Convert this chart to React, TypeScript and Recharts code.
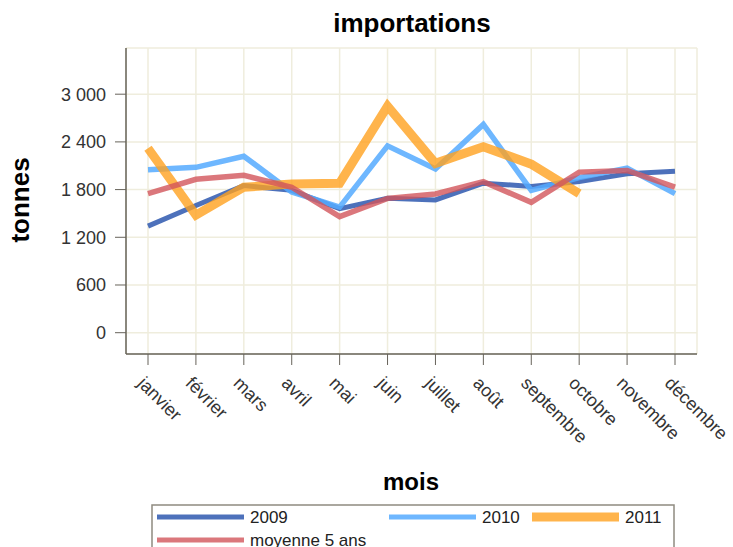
import React from 'react';
import { LineChart, Line, XAxis, YAxis, CartesianGrid } from 'recharts';

const months = ['janvier', 'février', 'mars', 'avril', 'mai', 'juin', 'juillet', 'août', 'septembre', 'octobre', 'novembre', 'décembre'];
const values2009 = [1340, 1600, 1850, 1790, 1560, 1690, 1670, 1880, 1840, 1900, 2000, 2030];
const values2010 = [2050, 2080, 2220, 1770, 1580, 2350, 2060, 2620, 1790, 1950, 2070, 1750];
const values2011 = [2320, 1480, 1830, 1870, 1880, 2850, 2130, 2340, 2120, 1750, null, null];
const valuesMoyenne = [1750, 1930, 1980, 1830, 1460, 1690, 1745, 1900, 1640, 2020, 2040, 1830];
const yTicks = [0, 600, 1200, 1800, 2400, 3000];

const FONT = '"Liberation Sans", Arial, sans-serif';

const series = [
  { key: 'a2009', name: '2009', color: '#3A62B4', width: 5, opacity: 0.9 },
  { key: 'a2010', name: '2010', color: '#55AAFF', width: 5.5, opacity: 0.85 },
  { key: 'a2011', name: '2011', color: '#FFA11F', width: 9, opacity: 0.8 },
  { key: 'moy', name: 'moyenne 5 ans', color: '#D2555B', width: 5.5, opacity: 0.8 },
];

const data = months.map((m, i) => ({
  mois: m,
  a2009: values2009[i],
  a2010: values2010[i],
  a2011: values2011[i],
  moy: valuesMoyenne[i],
}));

// "3 000" style, space as thousands separator
const formatTonnes = (v: number) =>
  v >= 1000 ? `${Math.floor(v / 1000)} ${String(v % 1000).padStart(3, '0')}` : String(v);

const MonthTick = (props: any) => {
  const { x, y, payload } = props;
  return (
    <text
      x={0}
      y={0}
      dy={16}
      transform={`translate(${x},${y}) rotate(45)`}
      textAnchor="start"
      fontSize={18}
      fontFamily={FONT}
      fill="#333"
    >
      {payload.value}
    </text>
  );
};

// legend placement (first row has 3 items, second row 1)
const legendPos = [
  { x: 157, y: 517 },
  { x: 389, y: 517 },
  { x: 532, y: 517 },
  { x: 157, y: 540 },
];

export default function App() {
  return (
    <div style={{ position: 'absolute', left: 0, top: 0, width: 733, height: 547, background: '#fff', fontFamily: FONT }}>
      <LineChart width={733} height={547} data={data} margin={{ top: 48, right: 36, left: 56, bottom: 82 }}>
        <CartesianGrid stroke="#EFEDDD" strokeWidth={1.5} />
        <XAxis
          dataKey="mois"
          interval={0}
          padding={{ left: 22, right: 22 }}
          height={111}
          tickSize={11}
          tickMargin={8}
          tick={<MonthTick />}
          axisLine={{ stroke: '#67635A', strokeWidth: 1.5 }}
          tickLine={{ stroke: '#67635A' }}
        />
        <XAxis xAxisId="top" dataKey="mois" orientation="top" height={0} tick={false} tickLine={false} axisLine={{ stroke: '#67635A', strokeWidth: 1.5 }} />
        <YAxis
          domain={[-268, 3581]}
          ticks={yTicks}
          width={70}
          tickSize={11}
          tickMargin={9}
          tickFormatter={formatTonnes}
          tick={{ fontSize: 18, fill: '#333', fontFamily: FONT }}
          axisLine={{ stroke: '#67635A', strokeWidth: 1.5 }}
          tickLine={{ stroke: '#67635A' }}
          allowDataOverflow
        />
        <YAxis yAxisId="right" orientation="right" domain={[-268, 3581]} width={0} tick={false} tickLine={false} axisLine={{ stroke: '#67635A', strokeWidth: 1.5 }} />
        {series.map((s) => (
          <Line
            key={s.key}
            type="linear"
            dataKey={s.key}
            name={s.name}
            stroke={s.color}
            strokeWidth={s.width}
            strokeOpacity={s.opacity}
            strokeLinejoin="miter"
            dot={false}
            activeDot={false}
            isAnimationActive={false}
          />
        ))}
      </LineChart>
      <svg width={733} height={547} style={{ position: 'absolute', left: 0, top: 0, pointerEvents: 'none' }}>
        <text x={412} y={32} textAnchor="middle" fontSize={26} fontWeight="bold" fontFamily={FONT} fill="#000">
          importations
        </text>
        <text transform="translate(28.5,200) rotate(-90)" textAnchor="middle" fontSize={26} fontWeight="bold" fontFamily={FONT} fill="#000">
          tonnes
        </text>
        <text x={411} y={490} textAnchor="middle" fontSize={24} fontWeight="bold" fontFamily={FONT} fill="#000">
          mois
        </text>
        <rect x={152} y={505} width={522} height={60} fill="none" stroke="#8F8B80" strokeWidth={1.5} />
        {series.map((s, i) => (
          <g key={s.key}>
            <line
              x1={legendPos[i].x}
              x2={legendPos[i].x + 87}
              y1={legendPos[i].y}
              y2={legendPos[i].y}
              stroke={s.color}
              strokeOpacity={s.opacity}
              strokeWidth={s.key === 'a2011' ? 9 : 5}
            />
            <text x={legendPos[i].x + 93} y={legendPos[i].y + 6} fontSize={17} fontFamily={FONT} fill="#222">
              {s.name}
            </text>
          </g>
        ))}
      </svg>
    </div>
  );
}
